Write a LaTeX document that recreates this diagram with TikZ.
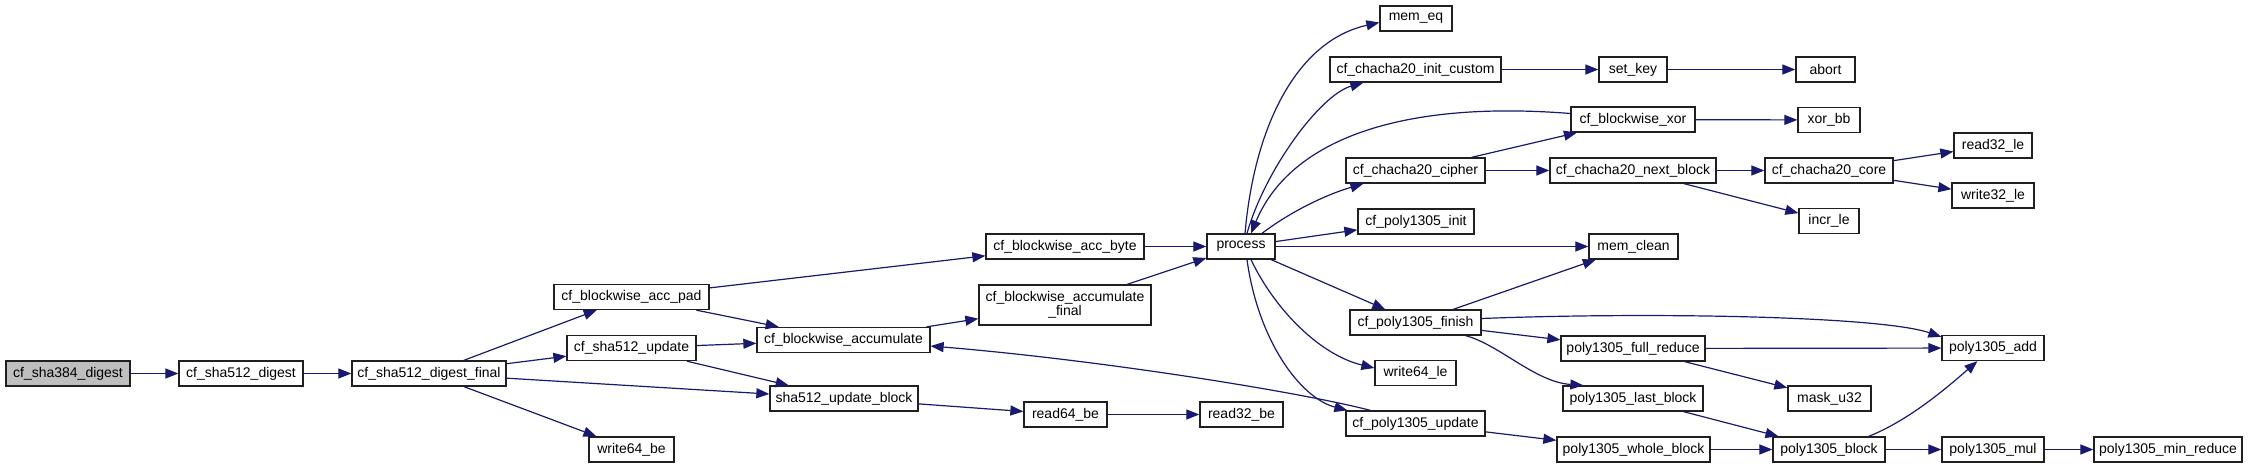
\documentclass[tikz,border=0pt]{standalone}
\usepackage{fontspec}
\setmainfont{Liberation Sans}
\usetikzlibrary{arrows.meta,calc}
\definecolor{edgec}{HTML}{191970}
\definecolor{rootfill}{HTML}{BFBFBF}
\definecolor{boxline}{HTML}{202020}
\begin{document}
\begin{tikzpicture}[x=1pt,y=-1pt,
  fn/.style={draw=boxline, line width=1.3pt, fill=white, rectangle, inner sep=0pt,
    minimum height=25pt, font=\fontsize{14}{14.5}\selectfont, text=black},
  e/.style={draw=edgec, line width=1.2pt, -{Triangle[length=13pt,width=10pt]}}]
\useasboundingbox (0,0) rectangle (2248,468);
\fill[white] (0,0) rectangle (2248,468);
% nodes
\node[fn, fill=rootfill, minimum width=124pt] (sha384) at (68,373.5) {cf\_sha384\_digest};
\node[fn, minimum width=124pt] (sha512d) at (241,373.5) {cf\_sha512\_digest};
\node[fn, minimum width=154pt] (final) at (429,373.5) {cf\_sha512\_digest\_final};
\node[fn, minimum width=155pt] (accpad) at (631.5,297) {cf\_blockwise\_acc\_pad};
\node[fn, minimum width=129pt] (upd) at (631.5,348) {cf\_sha512\_update};
\node[fn, minimum width=85pt] (w64be) at (631.5,449.5) {write64\_be};
\node[fn, minimum width=173pt] (accum) at (843.5,340) {cf\_blockwise\_accumulate};
\node[fn, minimum width=148pt] (upblock) at (844,398.5) {sha512\_update\_block};
\node[fn, minimum width=158pt] (accbyte) at (1065,246.5) {cf\_blockwise\_acc\_byte};
\node[fn, minimum width=172pt, minimum height=40pt, align=center] (accfinal) at (1065,305) {cf\_blockwise\_accumulate\\\_final};
\node[fn, minimum width=83pt] (r64be) at (1065.5,414.5) {read64\_be};
\node[fn, minimum width=68pt] (process) at (1241,246.5) {process};
\node[fn, minimum width=83pt] (r32be) at (1241.5,414.5) {read32\_be};
\node[fn, minimum width=72pt] (memeq) at (1416,18.5) {mem\_eq};
\node[fn, minimum width=171pt] (initc) at (1415.5,69.5) {cf\_chacha20\_init\_custom};
\node[fn, minimum width=139pt] (cipher) at (1415.5,170.5) {cf\_chacha20\_cipher};
\node[fn, minimum width=116pt] (p1305init) at (1416,221.5) {cf\_poly1305\_init};
\node[fn, minimum width=131pt] (finish) at (1415.5,322.5) {cf\_poly1305\_finish};
\node[fn, minimum width=81pt] (w64le) at (1415.5,373) {write64\_le};
\node[fn, minimum width=139pt] (p1305upd) at (1415.5,423.5) {cf\_poly1305\_update};
\node[fn, minimum width=68pt] (setkey) at (1633,69.5) {set\_key};
\node[fn, minimum width=124pt] (bxor) at (1633,119.5) {cf\_blockwise\_xor};
\node[fn, minimum width=166pt] (nextblock) at (1633,170.5) {cf\_chacha20\_next\_block};
\node[fn, minimum width=89pt] (memclean) at (1633.5,246.5) {mem\_clean};
\node[fn, minimum width=144pt] (fullreduce) at (1633,348.5) {poly1305\_full\_reduce};
\node[fn, minimum width=140pt] (lastblock) at (1633,398.5) {poly1305\_last\_block};
\node[fn, minimum width=153pt] (wholeblock) at (1633.5,449.5) {poly1305\_whole\_block};
\node[fn, minimum width=59pt] (abort) at (1825.5,69.5) {abort};
\node[fn, minimum width=62pt] (xorbb) at (1829,120) {xor\_bb};
\node[fn, minimum width=128pt] (core) at (1829,170.5) {cf\_chacha20\_core};
\node[fn, minimum width=60pt] (incr) at (1829,221) {incr\_le};
\node[fn, minimum width=83pt] (mask) at (1829.5,398.5) {mask\_u32};
\node[fn, minimum width=112pt] (pblock) at (1829,449.5) {poly1305\_block};
\node[fn, minimum width=78pt] (r32le) at (1993,145.5) {read32\_le};
\node[fn, minimum width=82pt] (w32le) at (1993,195.5) {write32\_le};
\node[fn, minimum width=102pt] (padd) at (1993,348) {poly1305\_add};
\node[fn, minimum width=102pt] (pmul) at (1993,449.5) {poly1305\_mul};
\node[fn, minimum width=148pt] (minred) at (2168,449.5) {poly1305\_min\_reduce};
% edges
\draw[e] (sha384) -- (sha512d);
\draw[e] (sha512d) -- (final);
\draw[e] (final) -- (accpad);
\draw[e] (final) -- (upd);
\draw[e] (final) -- (upblock);
\draw[e] (final) -- (w64be);
\draw[e] (accpad) -- (accbyte);
\draw[e] (accpad) -- (accum);
\draw[e] (upd) -- (accum);
\draw[e] (upd) -- (upblock);
\draw[e] (accum) -- (accfinal);
\draw[e] (accbyte) -- (process);
\draw[e] (accfinal) -- (process);
\draw[e] (upblock) -- (r64be);
\draw[e] (r64be) -- (r32be);
\draw[e] ($(process.north)+(4,0)$) .. controls (1255,120) and (1300,40) .. ($(memeq.west)+(0,4)$);
\draw[e] ($(process.north)+(6,0)$) .. controls (1265,170) and (1320,95) .. ($(initc.south west)+(34,0)$);
\draw[e] ($(bxor.west)+(0,-6)$) .. controls (1400,100) and (1290,140) .. ($(process.north)+(10,0)$);
\draw[e] ($(process.north)+(21,0)$) .. controls (1290,212) and (1325,195) .. ($(cipher.south west)+(18,0)$);
\draw[e] (process) -- (p1305init);
\draw[e] (process) -- (memclean);
\draw[e] (process) -- (finish);
\draw[e] ($(process.south)+(10,0)$) .. controls (1275,310) and (1320,355) .. ($(w64le.west)+(0,-5)$);
\draw[e] ($(process.south)+(6,0)$) .. controls (1258,340) and (1300,398) .. ($(p1305upd.north west)+(2,0)$);
\draw[e] ($(p1305upd.north west)+(25,0)$) .. controls (1300,392) and (1100,360) .. ($(accum.east)+(0,6)$);
\draw[e] (initc) -- (setkey);
\draw[e] (setkey) -- (abort);
\draw[e] (cipher) -- (bxor);
\draw[e] (cipher) -- (nextblock);
\draw[e] (bxor) -- (xorbb);
\draw[e] (nextblock) -- (core);
\draw[e] (nextblock) -- (incr);
\draw[e] (core) -- (r32le);
\draw[e] (core) -- (w32le);
\draw[e] (finish) -- (memclean);
\draw[e] ($(finish.east)+(0,-4)$) .. controls (1650,312) and (1880,316) .. ($(padd.north west)+(0,2)$);
\draw[e] (finish) -- (fullreduce);
\draw[e] ($(finish.south east)+(-16,0)$) .. controls (1500,345) and (1535,382) .. ($(lastblock.north west)+(21,0)$);
\draw[e] (fullreduce) -- (padd);
\draw[e] (fullreduce) -- (mask);
\draw[e] (lastblock) -- (pblock);
\draw[e] (p1305upd) -- (wholeblock);
\draw[e] (wholeblock) -- (pblock);
\draw[e] ($(pblock.north east)+(-17,0)$) .. controls (1910,420) and (1950,385) .. ($(padd.south west)+(36,0)$);
\draw[e] (pblock) -- (pmul);
\draw[e] (pmul) -- (minred);
\end{tikzpicture}
\end{document}
